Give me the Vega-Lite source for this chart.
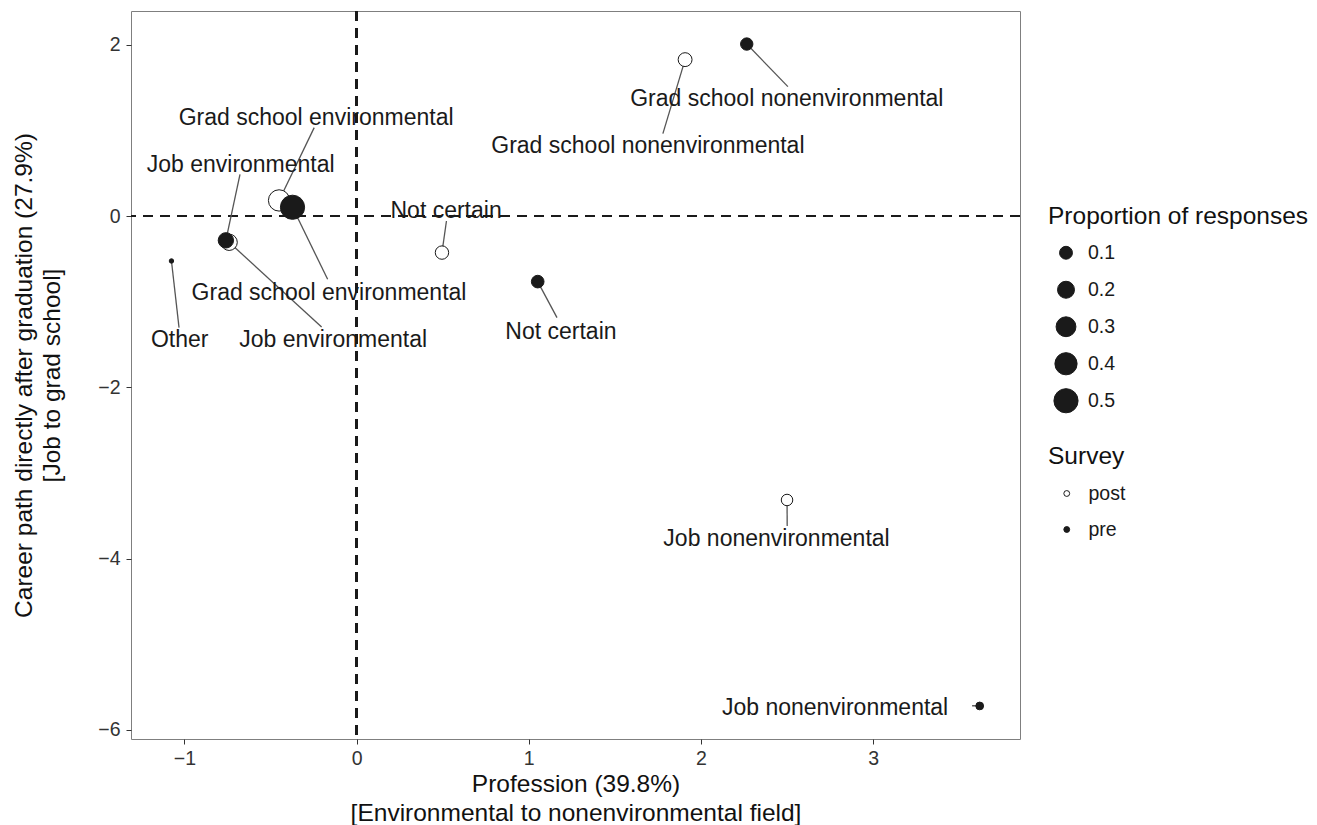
{
  "$schema": "https://vega.github.io/schema/vega-lite/v6.json",
  "width": 889,
  "height": 728,
  "autosize": {"type": "none"},
  "padding": {"left": 131, "top": 11, "right": 297, "bottom": 86},
  "background": "white",
  "config": {
    "font": "Liberation Sans",
    "view": {"stroke": "#7f7f7f", "strokeWidth": 1},
    "axis": {
      "grid": false,
      "domain": false,
      "tickColor": "#333333",
      "tickSize": 5,
      "tickWidth": 1,
      "labelFont": "Liberation Sans",
      "labelFontSize": 19.5,
      "labelColor": "#333333",
      "titleFont": "Liberation Sans",
      "titleFontSize": 24.5,
      "titleFontWeight": "normal",
      "titleColor": "#111111"
    },
    "legend": {
      "titleFont": "Liberation Sans",
      "labelFont": "Liberation Sans",
      "titleFontSize": 24.5,
      "titleFontWeight": "normal",
      "titleColor": "#111111",
      "titleLimit": 400,
      "labelFontSize": 19.5,
      "labelColor": "#1a1a1a",
      "padding": 0
    }
  },
  "data": {
    "values": [
      {"survey": "post", "category": "Grad school nonenvironmental", "x": 1.908, "y": 1.826, "prop": 0.12, "lx": 1.692, "ly": 0.822, "ex": 1.779, "ey": 0.962},
      {"survey": "post", "category": "Grad school environmental", "x": -0.45, "y": 0.182, "prop": 0.36, "lx": -0.235, "ly": 1.147, "ex": -0.246, "ey": 1.032},
      {"survey": "post", "category": "Job environmental", "x": -0.74, "y": -0.307, "prop": 0.18, "lx": -0.136, "ly": -1.445, "ex": -0.203, "ey": -1.296},
      {"survey": "post", "category": "Not certain", "x": 0.496, "y": -0.427, "prop": 0.11, "lx": 0.52, "ly": 0.063, "ex": 0.522, "ey": -0.058},
      {"survey": "post", "category": "Job nonenvironmental", "x": 2.5, "y": -3.316, "prop": 0.075, "lx": 2.439, "ly": -3.777, "ex": 2.501, "ey": -3.619},
      {"survey": "pre", "category": "Grad school nonenvironmental", "x": 2.266, "y": 2.008, "prop": 0.09, "lx": 2.499, "ly": 1.365, "ex": 2.505, "ey": 1.511},
      {"survey": "pre", "category": "Grad school environmental", "x": -0.372, "y": 0.102, "prop": 0.5, "lx": -0.16, "ly": -0.897, "ex": -0.168, "ey": -0.739},
      {"survey": "pre", "category": "Job environmental", "x": -0.759, "y": -0.284, "prop": 0.155, "lx": -0.673, "ly": 0.601, "ex": -0.677, "ey": 0.487},
      {"survey": "pre", "category": "Other", "x": -1.075, "y": -0.525, "prop": 0.01, "lx": -1.027, "ly": -1.445, "ex": -1.031, "ey": -1.303},
      {"survey": "pre", "category": "Not certain", "x": 1.052, "y": -0.766, "prop": 0.095, "lx": 1.187, "ly": -1.35, "ex": 1.164, "ey": -1.186},
      {"survey": "pre", "category": "Job nonenvironmental", "x": 3.619, "y": -5.721, "prop": 0.03, "lx": 2.779, "ly": -5.742, "ex": 3.575, "ey": -5.719}
    ]
  },
  "layer": [
    {
      "mark": {"type": "rule", "color": "#1a1a1a", "strokeWidth": 1.8, "strokeDash": [10, 7]},
      "encoding": {"x": {"datum": 0, "type": "quantitative"}}
    },
    {
      "mark": {"type": "rule", "color": "#1a1a1a", "strokeWidth": 1.8, "strokeDash": [10, 7]},
      "encoding": {"y": {"datum": 0, "type": "quantitative"}}
    },
    {
      "mark": {"type": "rule", "color": "#555555", "strokeWidth": 1.3},
      "encoding": {
        "x": {"field": "x", "type": "quantitative"},
        "y": {"field": "y", "type": "quantitative"},
        "x2": {"field": "ex"},
        "y2": {"field": "ey"}
      }
    },
    {
      "mark": {"type": "point", "shape": "circle", "filled": true, "opacity": 1, "stroke": "#1a1a1a", "strokeWidth": 1},
      "encoding": {
        "x": {
          "field": "x", "type": "quantitative",
          "scale": {"domain": [-1.31, 3.853], "nice": false, "zero": false},
          "axis": {"values": [-1, 0, 1, 2, 3], "format": "d", "labelPadding": 5, "titlePadding": 5, "titleLineHeight": 29,
                   "title": ["Profession (39.8%)", "[Environmental to nonenvironmental field]"]}
        },
        "y": {
          "field": "y", "type": "quantitative",
          "scale": {"domain": [-6.107, 2.394], "nice": false, "zero": false},
          "axis": {"values": [-6, -4, -2, 0, 2], "format": "d", "labelPadding": 6, "titlePadding": 33, "titleLineHeight": 28,
                   "title": ["Career path directly after graduation (27.9%)", "[Job to grad school]"]}
        },
        "fill": {
          "field": "survey", "type": "nominal",
          "scale": {"domain": ["post", "pre"], "range": ["#ffffff", "#1a1a1a"]},
          "legend": {"title": "Survey", "orient": "none", "legendX": 917, "legendY": 434, "clipHeight": 36,
                     "rowPadding": 0, "symbolSize": 34, "symbolOffset": 9, "labelOffset": 12,
                     "symbolStrokeColor": "#1a1a1a", "symbolStrokeWidth": 1, "titlePadding": 6, "symbolType": "circle"}
        },
        "size": {
          "field": "prop", "type": "quantitative",
          "scale": {"type": "pow", "exponent": 0.75, "domain": [0.01, 0.5], "range": [19.6, 585], "zero": false},
          "legend": {"title": "Proportion of responses", "values": [0.1, 0.2, 0.3, 0.4, 0.5], "orient": "none",
                     "legendX": 917, "legendY": 194, "clipHeight": 36.5, "rowPadding": 0, "symbolOffset": 5,
                     "labelOffset": 9, "symbolFillColor": "#1a1a1a", "symbolStrokeColor": "#1a1a1a",
                     "symbolStrokeWidth": 1, "titlePadding": 5, "symbolType": "circle"}
        }
      }
    },
    {
      "mark": {"type": "text", "font": "Liberation Sans", "fontSize": 23, "baseline": "middle", "align": "center", "color": "#1a1a1a"},
      "encoding": {
        "x": {"field": "lx", "type": "quantitative"},
        "y": {"field": "ly", "type": "quantitative"},
        "text": {"field": "category", "type": "nominal"}
      }
    }
  ]
}
